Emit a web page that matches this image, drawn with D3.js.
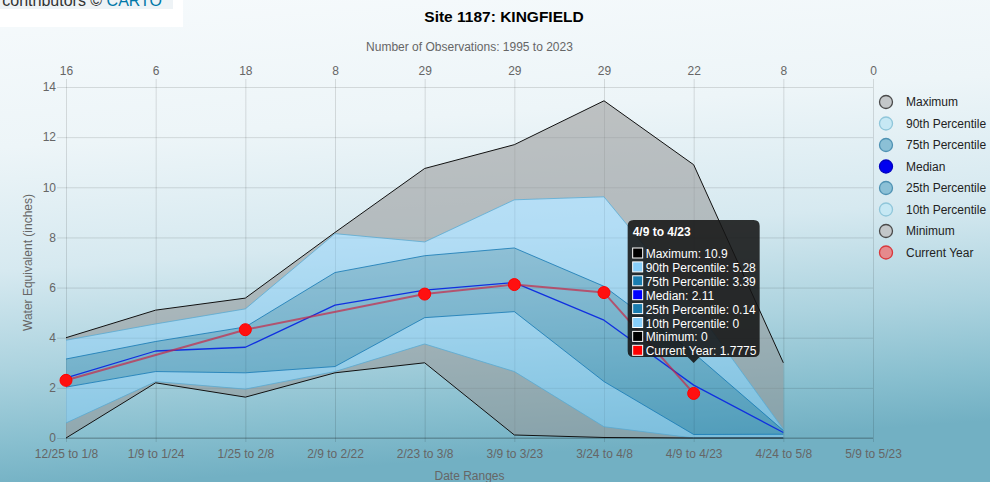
<!DOCTYPE html>
<html lang="en">
  <head>
    <meta charset="utf-8">
    <title>Site 1187: KINGFIELD</title>
    <style type="text/css">
      body{
        margin: 0;
        overflow: hidden;
      }
      svg text{
        font-family: "Liberation Sans", Arial, Helvetica, sans-serif;
      }
      .tick text{
        font-size: 12px;
        fill: #666;
      }
    </style>
    <script src="https://cdn.jsdelivr.net/npm/d3@7"></script>
  </head>
  <body>
    <div class="chart"></div>
    <script type="text/javascript">
      var width = 990;
      var height = 482;

      //date ranges along the x axis
      var categories = ["12/25 to 1/8", "1/9 to 1/24", "1/25 to 2/8", "2/9 to 2/22", "2/23 to 3/8",
        "3/9 to 3/23", "3/24 to 4/8", "4/9 to 4/23", "4/24 to 5/8", "5/9 to 5/23"];

      //number of observations shown on the top axis
      var obsCounts = [16, 6, 18, 8, 29, 29, 29, 22, 8, 0];

      //statistics per date range (inches)
      var maximum = [4.0, 5.1, 5.58, 8.2, 10.75, 11.7, 13.45, 10.9, 3.0, null];
      var p90 = [3.9, 4.55, 5.15, 8.15, 7.82, 9.5, 9.62, 5.28, 0.35, null];
      var p75 = [3.15, 3.85, 4.43, 6.6, 7.27, 7.58, 6.05, 3.39, 0.3, null];
      var median = [2.4, 3.47, 3.62, 5.3, 5.9, 6.2, 4.7, 2.11, 0.22, null];
      var p25 = [2.03, 2.65, 2.6, 2.85, 4.8, 5.04, 2.25, 0.14, 0.15, null];
      var p10 = [0.6, 2.25, 1.95, 2.65, 3.75, 2.65, 0.45, 0, 0, null];
      var minimum = [0, 2.2, 1.63, 2.6, 3.0, 0.12, 0.02, 0, 0, null];
      var currentYear = [2.3, null, 4.32, null, 5.74, 6.12, 5.8, 1.7775, null, null];

      var yTicks = [0, 2, 4, 6, 8, 10, 12, 14];

      var legendItems = [
        {name: "Maximum", fill: "#c3c7c9", stroke: "#4a4a4a"},
        {name: "90th Percentile", fill: "#c6e8f4", stroke: "#8fc6da"},
        {name: "75th Percentile", fill: "#8bc0d6", stroke: "#4f92b3"},
        {name: "Median", fill: "#0000f0", stroke: "#0000c0"},
        {name: "25th Percentile", fill: "#8bc0d6", stroke: "#4f92b3"},
        {name: "10th Percentile", fill: "#c6e8f4", stroke: "#8fc6da"},
        {name: "Minimum", fill: "#c3c7c9", stroke: "#4a4a4a"},
        {name: "Current Year", fill: "#e58a8d", stroke: "#d9383c"}
      ];

      //tooltip shown for 4/9 to 4/23
      var tipIndex = 7;
      var tipRows = [
        {label: "Maximum: " + maximum[tipIndex], color: "#000000"},
        {label: "90th Percentile: " + p90[tipIndex], color: "#87cefa"},
        {label: "75th Percentile: " + p75[tipIndex], color: "#1a7db0"},
        {label: "Median: " + median[tipIndex], color: "#0000ff"},
        {label: "25th Percentile: " + p25[tipIndex], color: "#1a7db0"},
        {label: "10th Percentile: " + p10[tipIndex], color: "#87cefa"},
        {label: "Minimum: " + minimum[tipIndex], color: "#000000"},
        {label: "Current Year: " + currentYear[tipIndex], color: "#ff0000"}
      ];

      var plot = {left: 66, right: 873, top: 87, bottom: 438};

      var svg = d3.select(".chart")
        .append("svg")
        .attr("width", width)
        .attr("height", height);

      //background gradient like the photo behind the chart
      var defs = svg.append("defs");
      var grad = defs.append("linearGradient")
        .attr("id", "bg")
        .attr("x1", 0).attr("y1", 0).attr("x2", 0.15).attr("y2", 1);
      [[0, "#f6fafc"], [0.3, "#edf5f8"], [0.55, "#d6e9f0"], [0.75, "#acd3df"], [0.9, "#88bfcf"], [1, "#72b0c3"]]
        .forEach(s => grad.append("stop").attr("offset", s[0]).attr("stop-color", s[1]));

      svg.append("rect")
        .attr("width", width)
        .attr("height", height)
        .attr("fill", "url(#bg)");

      //map attribution box cut off at the top left
      svg.append("rect").attr("x", 0).attr("y", 0).attr("width", 183).attr("height", 27).attr("fill", "#ffffff");
      svg.append("rect").attr("x", 0).attr("y", 0).attr("width", 173).attr("height", 9).attr("fill", "#eef3f6");
      var attr = svg.append("text")
        .attr("x", 162)
        .attr("y", 6)
        .attr("text-anchor", "end")
        .style("font-size", "16px")
        .style("fill", "#333");
      attr.append("tspan").text("© OpenStreetMap contributors © ");
      attr.append("tspan").style("fill", "#0078a8").text("CARTO");

      //scales
      var x = d3.scalePoint()
        .domain(categories)
        .range([plot.left, plot.right]);

      var y = d3.scaleLinear()
        .domain([0, 14])
        .range([plot.bottom, plot.top]);

      //grid lines
      svg.append("g")
        .attr("transform", `translate(${plot.left},0)`)
        .call(d3.axisLeft(y).tickValues(yTicks).tickSize(-(plot.right - plot.left)).tickPadding(10))
        .call(g => g.select(".domain").remove())
        .call(g => g.selectAll(".tick line").attr("stroke", "rgba(0,0,0,0.12)").attr("x1", -9).attr("x2", plot.right - plot.left));

      svg.append("g")
        .attr("transform", `translate(0,${plot.bottom})`)
        .call(d3.axisBottom(x).tickSize(-(plot.bottom - plot.top) - 8).tickPadding(9))
        .call(g => g.select(".domain").remove())
        .call(g => g.selectAll(".tick line").attr("stroke", "rgba(0,0,0,0.12)").attr("y1", 4))
        .call(g => g.selectAll(".tick text").attr("dy", "0.95em"));

      //top axis with number of observations
      var xTop = d3.scalePoint()
        .domain(d3.range(categories.length))
        .range([plot.left, plot.right]);

      svg.append("g")
        .attr("transform", `translate(0,${plot.top - 7})`)
        .call(d3.axisTop(xTop).tickSize(0).tickPadding(5).tickFormat(i => obsCounts[i]))
        .call(g => g.select(".domain").remove());

      //bottom axis line
      svg.append("line")
        .attr("x1", plot.left).attr("x2", plot.right)
        .attr("y1", plot.bottom).attr("y2", plot.bottom)
        .attr("stroke", "rgba(0,0,0,0.25)");

      //band areas
      function band(upper, lower, fill){
        var pts = categories.map((c, i) => ({c: c, hi: upper[i], lo: lower[i]}))
          .filter(d => d.hi != null && d.lo != null);
        svg.append("path")
          .datum(pts)
          .attr("fill", fill)
          .attr("d", d3.area().x(d => x(d.c)).y0(d => y(d.lo)).y1(d => y(d.hi)));
      }

      function line(values, stroke, w){
        var pts = categories.map((c, i) => ({c: c, v: values[i]})).filter(d => d.v != null);
        svg.append("path")
          .datum(pts)
          .attr("fill", "none")
          .attr("stroke", stroke)
          .attr("stroke-width", w)
          .attr("stroke-linejoin", "round")
          .attr("d", d3.line().x(d => x(d.c)).y(d => y(d.v)));
        return pts;
      }

      band(maximum, p90, "rgba(150,150,150,0.55)");
      band(p90, p75, "rgba(135,206,250,0.45)");
      band(p75, p25, "rgba(20,120,170,0.35)");
      band(p25, p10, "rgba(135,206,250,0.45)");
      band(p10, minimum, "rgba(150,150,150,0.55)");

      line(maximum, "#111", 1);
      line(p90, "rgba(90,170,210,0.8)", 1);
      line(p75, "rgba(20,120,180,0.8)", 1);
      line(p25, "rgba(20,120,180,0.8)", 1);
      line(p10, "rgba(90,170,210,0.8)", 1);
      line(minimum, "#111", 1);
      line(median, "#1030e0", 1.3);

      var cur = line(currentYear, "rgba(200,40,70,0.7)", 2);
      svg.selectAll(".cur-point")
        .data(cur)
        .enter()
        .append("circle")
        .attr("class", "cur-point")
        .attr("cx", d => x(d.c))
        .attr("cy", d => y(d.v))
        .attr("r", 6)
        .attr("fill", "#ff1010")
        .attr("stroke", "#f00")
        .attr("stroke-width", 1);

      //titles
      svg.append("text")
        .attr("x", 504).attr("y", 22)
        .attr("text-anchor", "middle")
        .style("font-size", "15.5px")
        .style("font-weight", "bold")
        .style("fill", "#000")
        .text("Site 1187: KINGFIELD");

      svg.append("text")
        .attr("x", (plot.left + plot.right) / 2).attr("y", 51)
        .attr("text-anchor", "middle")
        .style("font-size", "12px")
        .style("fill", "#666")
        .text("Number of Observations: 1995 to 2023");

      svg.append("text")
        .attr("transform", `translate(32,${(plot.top + plot.bottom) / 2}) rotate(-90)`)
        .attr("text-anchor", "middle")
        .style("font-size", "12px")
        .style("fill", "#666")
        .text("Water Equivalent (inches)");

      svg.append("text")
        .attr("x", (plot.left + plot.right) / 2).attr("y", 480)
        .attr("text-anchor", "middle")
        .style("font-size", "12px")
        .style("fill", "#666")
        .text("Date Ranges");

      //legend
      var legend = svg.selectAll(".legend")
        .data(legendItems)
        .enter()
        .append("g")
        .attr("class", "legend")
        .attr("transform", (d, i) => `translate(886,${102 + i * 21.5})`);

      legend.append("circle")
        .attr("r", 6.5)
        .attr("fill", d => d.fill)
        .attr("stroke", d => d.stroke)
        .attr("stroke-width", 1.3);

      legend.append("text")
        .attr("x", 20)
        .attr("dy", "0.35em")
        .style("font-size", "12px")
        .style("fill", "#222")
        .text(d => d.name);

      //tooltip
      var tx = x(categories[tipIndex]);
      var tip = svg.append("g").attr("transform", `translate(${tx - 66},220)`);
      tip.append("path")
        .attr("d", "M6,0 H126 Q132,0 132,6 V131 Q132,137 126,137 H72 L66,143 L60,137 H6 Q0,137 0,131 V6 Q0,0 6,0 Z")
        .attr("fill", "rgba(20,20,20,0.88)");
      tip.append("text")
        .attr("x", 5).attr("y", 16)
        .style("font-size", "12px")
        .style("font-weight", "bold")
        .style("fill", "#fff")
        .text(categories[tipIndex]);

      var rows = tip.selectAll(".tip-row")
        .data(tipRows)
        .enter()
        .append("g")
        .attr("class", "tip-row")
        .attr("transform", (d, i) => `translate(5,${28 + i * 13.9})`);
      rows.append("rect")
        .attr("width", 10).attr("height", 10)
        .attr("fill", d => d.color)
        .attr("stroke", "#fff")
        .attr("stroke-width", 1);
      rows.append("text")
        .attr("x", 13).attr("y", 10)
        .style("font-size", "12px")
        .style("fill", "#fff")
        .text(d => d.label);
    </script>
  </body>
</html>
